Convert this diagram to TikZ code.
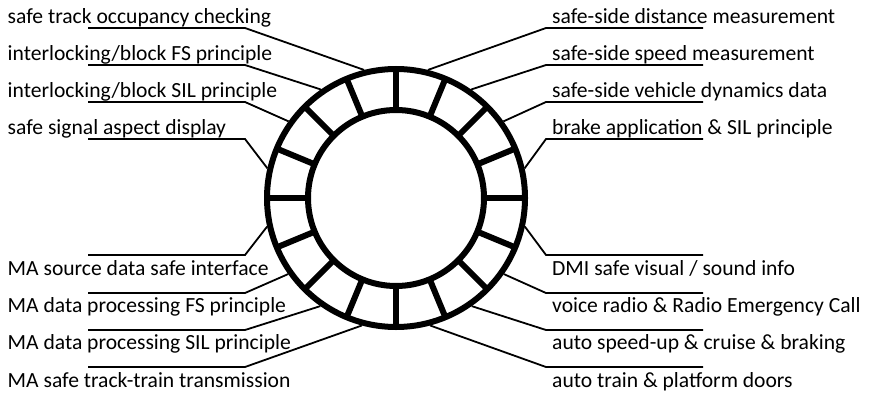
\documentclass[tikz,border=0pt]{standalone}
\usepackage{fontspec}
\setmainfont{Carlito}
\usetikzlibrary{calc}
\begin{document}
\begin{tikzpicture}[x=1pt,y=-1pt,
  ringline/.style={line width=6pt},
  spoke/.style={line width=6pt},
  leader/.style={line width=1.8pt},
  lbl/.style={inner sep=0pt,anchor=base west,font=\fontsize{21.6}{26}\selectfont}]
\useasboundingbox (0,0) rectangle (870,396);

% ring with sixteen cells
\coordinate (c) at (396,198);
\draw[ringline] (c) circle (129);
\draw[ringline] (c) circle (88);
\foreach \a in {0,22.5,...,337.5}
  \draw[spoke] ($(c)+(\a:88)$) -- ($(c)+(\a:129)$);

% left column: name / label text / underline y / baseline y / ring angle
\foreach \n/\t/\u/\b/\ang in {
  L1/{safe track occupancy checking}/28/23.5/-104,
  L2/{interlocking/block FS principle}/65/60.5/-124.7,
  L3/{interlocking/block SIL principle}/102/97.5/-144.5,
  L4/{safe signal aspect display}/139/134.5/-167,
  L5/{MA source data safe interface}/255/275/167.5,
  L6/{MA data processing FS principle}/293/312.5/144.8,
  L7/{MA data processing SIL principle}/330/349.5/125,
  L8/{MA safe track-train transmission}/367/387/105}
{
  \node[lbl] (\n) at (7.5,\b) {\t};
  \coordinate (\n s) at (88,\u);
  \coordinate (\n k) at (245,\u);
  \coordinate (\n r) at ($(c)+(\ang:132)$);
  \draw[leader] (\n s) -- (\n k) -- (\n r);
}

% right column
\foreach \n/\t/\u/\b/\ang in {
  R1/{safe-side distance measurement}/28/23.5/-76,
  R2/{safe-side speed measurement}/65/60.5/-55.3,
  R3/{safe-side vehicle dynamics data}/102/97.5/-35.5,
  R4/{brake application \& SIL principle}/139/134.5/-13,
  R5/{DMI safe visual / sound info}/255/275/12.5,
  R6/{voice radio \& Radio Emergency Call}/293/312.5/35.2,
  R7/{auto speed-up \& cruise \& braking}/330/349.5/55,
  R8/{auto train \& platform doors}/367/387/75}
{
  \node[lbl] (\n) at (552,\b) {\t};
  \coordinate (\n s) at (703,\u);
  \coordinate (\n k) at (546,\u);
  \coordinate (\n r) at ($(c)+(\ang:132)$);
  \draw[leader] (\n s) -- (\n k) -- (\n r);
}
\end{tikzpicture}
\end{document}
